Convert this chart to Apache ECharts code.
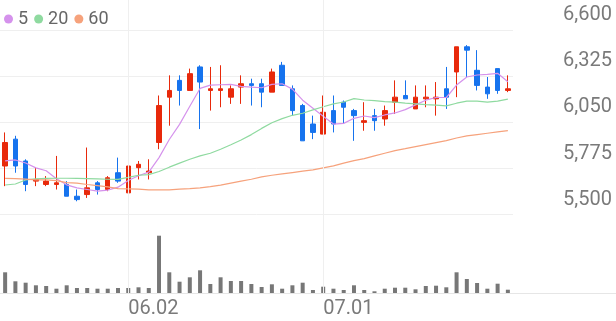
<!DOCTYPE html>
<html><head><meta charset="utf-8">
<script src="https://cdn.jsdelivr.net/npm/echarts@6/dist/echarts.min.js"></script>
<style>html,body{margin:0;padding:0;background:#fff}#c{width:616px;height:321px}</style>
</head><body><div id="c"></div>
<script>
const dates = ['05.15','05.16','05.19','05.20','05.21','05.22','05.23','05.26','05.27','05.28','05.29','05.30',
  '06.02','06.04','06.05','06.09','06.10','06.11','06.12','06.13','06.16','06.17','06.18','06.19','06.20',
  '06.23','06.24','06.25','06.26','06.27','06.30','07.01','07.02','07.03','07.04','07.07','07.08','07.09',
  '07.10','07.11','07.14','07.15','07.16','07.17','07.18','07.21','07.22','07.23','07.24','07.25'];
const opens  = [5790,5950,5820,5700,5680,5680,5680,5610,5620,5690,5650,5750,5630,5780,5750,5930,6200,6300,6240,6380,
  6240,6240,6200,6260,6280,6280,6230,6390,6250,6150,6040,5980,6120,6170,6120,6050,6090,6070,6170,6210,
  6130,6190,6190,6250,6350,6500,6360,6260,6370,6240];
const closes = [5930,5790,5680,5710,5700,5690,5610,5590,5660,5650,5720,5700,5790,5800,5760,6150,6240,6240,6340,6290,
  6250,6250,6250,6280,6270,6230,6350,6270,6120,5940,5990,6110,6040,6140,6090,6060,6060,6120,6200,6190,
  6200,6200,6200,6200,6500,6480,6270,6220,6240,6250];
const lows   = [5670,5750,5640,5670,5670,5650,5610,5580,5600,5620,5640,5690,5620,5710,5710,5890,6030,6150,6240,6010,
  6120,6140,6160,6160,6150,6140,6230,6270,6090,5940,5950,5980,5990,6040,5940,6000,6000,6030,6100,6190,
  6130,6140,6090,6130,6200,6320,6240,6190,6220,6230];
const highs  = [5990,5970,5830,5780,5730,5850,5700,5650,5900,5700,5730,5840,5790,5820,5830,6210,6330,6330,6370,6390,
  6380,6390,6270,6330,6310,6310,6370,6410,6270,6160,6090,6210,6210,6180,6130,6170,6130,6150,6300,6300,
  6270,6270,6290,6380,6500,6510,6480,6320,6370,6330];
const ma5  = [5820,5826,5808,5779,5762,5714,5678,5660,5650,5640,5646,5664,5704,5732,5754,5840,5948,6038,6146,6252,
  6272,6274,6276,6264,6260,6256,6276,6280,6248,6182,6134,6086,6040,6044,6074,6088,6078,6094,6106,6126,
  6154,6182,6198,6198,6272,6320,6332,6336,6342,6292];
const ma20 = [5677,5683,5707,5713,5716,5717,5717,5716,5715,5713,5711,5710,5722,5735,5739,5757,5783,5807,5830,5850,
  5866,5890,5917,5945,5977,6014,6048,6072,6092,6104,6124,6143,6160,6171,6191,6183,6179,6174,6171,6164,
  6160,6155,6152,6148,6164,6176,6176,6171,6176,6188];
const ma60 = [5716,5715,5712,5707,5707,5703,5691,5688,5680,5673,5666,5655,5654,5652,5648,5648,5648,5652,5655,5660,
  5667,5676,5688,5700,5711,5725,5735,5743,5751,5759,5767,5779,5791,5807,5822,5834,5850,5866,5882,5893,
  5905,5917,5929,5941,5957,5969,5977,5985,5993,6001];
const volumes = [20700,11700,10300,7700,7000,4300,7700,5000,5000,4300,4300,5000,5000,5700,5000,57300,20700,11300,15700,22700,
  9000,15700,12000,12000,9000,6000,8700,4300,7700,10300,3000,6300,4300,3000,7700,3000,1700,4300,5300,5300,
  3700,7000,7300,5700,20700,14000,10000,4300,9300,3300];
const monthMarks = ['06.02','07.01'];
const yTicks = [5500,5775,6050,6325,6600];
const maNames = ['5','20','60'];

const RED = '#e8290b', BLUE = '#1673ee';
const MA_COLORS = ['#d592ec','#8fdaa0','#f6a27c'];
const candleData = dates.map((d,i)=>[opens[i],closes[i],lows[i],highs[i]]);
const GL = 0, GW = 513;

const chart = echarts.init(document.getElementById('c'), null, {renderer:'canvas'});
chart.setOption({
  animation:false,
  backgroundColor:'#fff',
  textStyle:{fontFamily:'Roboto'},
  legend:{
    data: maNames, icon:'circle', itemWidth:9, itemHeight:9, itemGap:6,
    left:-1, top:5, textStyle:{fontSize:18, color:'#666', fontFamily:'Roboto'}
  },
  grid:[
    {left:GL, width:GW, top:30, height:184.7},
    {left:GL, width:GW, top:232, height:61},
    {left:GL, width:GW, top:0, height:293}
  ],
  xAxis:[
    {type:'category', gridIndex:0, data:dates, boundaryGap:true,
     axisLine:{show:false}, axisTick:{show:false}, axisLabel:{show:false}, splitLine:{show:false}},
    {type:'category', gridIndex:1, data:dates, boundaryGap:true,
     axisLine:{show:false}, axisTick:{show:false}, splitLine:{show:false},
     axisLabel:{show:true, interval:(i,v)=>monthMarks.indexOf(v)>=0, align:'left', margin:6,
       fontSize:20, color:'#7a7a7a', fontFamily:'Roboto'}},
    {type:'category', gridIndex:2, data:dates, boundaryGap:true, show:false}
  ],
  yAxis:[
    {type:'value', gridIndex:0, position:'right', min:yTicks[0], max:yTicks[yTicks.length-1], interval:yTicks[1]-yTicks[0],
     axisLine:{show:false}, axisTick:{show:false},
     splitLine:{show:true, lineStyle:{color:'#efefef', width:1}},
     axisLabel:{show:true, align:'right', margin:99, verticalAlign:'bottom', padding:[0,0,5,0],
       fontSize:20, color:'#7a7a7a', fontFamily:'Roboto',
       formatter:v=>v.toLocaleString('en-US')}},
    {type:'value', gridIndex:1, min:0, max:61000, show:false, splitLine:{show:false}},
    {type:'value', gridIndex:2, min:0, max:1, show:false, splitLine:{show:false}}
  ],
  graphic:[{type:'line', shape:{x1:0,y1:293.5,x2:616,y2:293.5}, style:{stroke:'#e6e6e6', lineWidth:1}, z:0, silent:true}],
  series:[
    {type:'line', xAxisIndex:2, yAxisIndex:2, data:dates.map(()=>'-'), silent:true, z:0,
     markLine:{silent:true, symbol:['none','none'], label:{show:false},
       lineStyle:{color:'#efefef', width:1, type:'solid'},
       data: monthMarks.map(m=>({xAxis:m}))}},
    {type:'candlestick', name:'price', xAxisIndex:0, yAxisIndex:0, data:candleData, barWidth:5, z:3,
     itemStyle:{color:RED, color0:BLUE, borderColor:RED, borderColor0:BLUE, borderWidth:1}},
    {type:'line', name:maNames[0], xAxisIndex:0, yAxisIndex:0, data:ma5, symbol:'none', z:4,
     lineStyle:{width:1.2, color:MA_COLORS[0]}, itemStyle:{color:MA_COLORS[0]}},
    {type:'line', name:maNames[1], xAxisIndex:0, yAxisIndex:0, data:ma20, symbol:'none', z:4,
     lineStyle:{width:1.2, color:MA_COLORS[1]}, itemStyle:{color:MA_COLORS[1]}},
    {type:'line', name:maNames[2], xAxisIndex:0, yAxisIndex:0, data:ma60, symbol:'none', z:4,
     lineStyle:{width:1.2, color:MA_COLORS[2]}, itemStyle:{color:MA_COLORS[2]}},
    {type:'bar', xAxisIndex:1, yAxisIndex:1, data:volumes, barWidth:4, itemStyle:{color:'#777'}, z:3}
  ]
});
</script></body></html>
